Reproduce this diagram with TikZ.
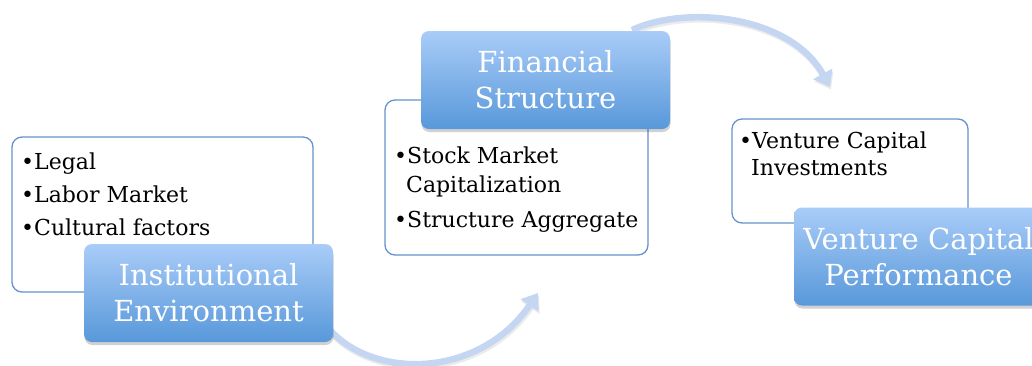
\documentclass[tikz,border=0pt]{standalone}
\usepackage{fontspec}
\setmainfont{DejaVu Serif}
\usetikzlibrary{arrows.meta,shadows}
\definecolor{boxtop}{HTML}{A9CCF8}
\definecolor{boxbot}{HTML}{5898DA}
\definecolor{wborder}{HTML}{6592CC}
\definecolor{arrowcol}{HTML}{C4D6F1}
\tikzset{
  bluebox/.style={rectangle, rounded corners=8pt, top color=boxtop, bottom color=boxbot,
    draw=none, minimum width=249pt, minimum height=98pt, align=center, text=white,
    font=\fontsize{29}{36}\selectfont,
    drop shadow={shadow xshift=0.5pt, shadow yshift=-3pt, opacity=0.18, fill=black}},
  whitebox/.style={rectangle, rounded corners=10pt, draw=wborder, line width=1.3pt, fill=white},
  itemtext/.style={anchor=base west, inner sep=0pt, font=\fontsize{22}{28}\selectfont, text=black},
  flowarrow/.style={draw=arrowcol, line width=6.5pt, -{Triangle[length=15pt,width=21pt]}},
  flowshadow/.style={draw=black!40, opacity=0.2, line width=6.5pt, -{Triangle[length=15pt,width=21pt]}}
}
\begin{document}
\begin{tikzpicture}[x=1pt,y=-1pt]
\useasboundingbox (0,0) rectangle (1032,365);
% connector coordinates
\coordinate (a1s) at (330,330);
\coordinate (a1e) at (538,293);
\coordinate (a2s) at (632,30);
\coordinate (a2e) at (830,87);
% arrow shadows
\draw[flowshadow] ([shift={(1,2.5)}]a1s) .. controls (376,382) and (481,380) .. ([shift={(1,2.5)}]a1e);
\draw[flowshadow] ([shift={(1,2.5)}]a2s) .. controls (687,7) and (791,17) .. ([shift={(1,2.5)}]a2e);
% arrows
\draw[flowarrow] (a1s) .. controls (375,380) and (480,378) .. (a1e);
\draw[flowarrow] (a2s) .. controls (686,5) and (790,15) .. (a2e);
% white boxes
\node[whitebox, minimum width=301pt, minimum height=155pt] (w1) at (162.5,214.5) {};
\node[whitebox, minimum width=263pt, minimum height=155pt] (w2) at (516.5,177.5) {};
\node[whitebox, minimum width=236pt, minimum height=104pt] (w3) at (850,171) {};
% bullet texts
\node[itemtext] (t1) at (21,169) {•Legal};
\node[itemtext] (t2) at (21,202) {•Labor Market};
\node[itemtext] (t3) at (21,235) {•Cultural factors};
\node[itemtext] (t4) at (394,163) {•Stock Market};
\node[itemtext] (t5) at (406,192) {Capitalization};
\node[itemtext] (t6) at (394,227) {•Structure Aggregate};
\node[itemtext] (t7) at (739,148) {•Venture Capital};
\node[itemtext] (t8) at (751,175) {Investments};
% blue boxes
\node[bluebox] (inst) at (208.5,293) {Institutional\\Environment};
\node[bluebox] (fin) at (545.5,80) {Financial\\Structure};
\node[bluebox] (vc) at (918.5,256.5) {Venture Capital\\Performance};
\end{tikzpicture}
\end{document}
